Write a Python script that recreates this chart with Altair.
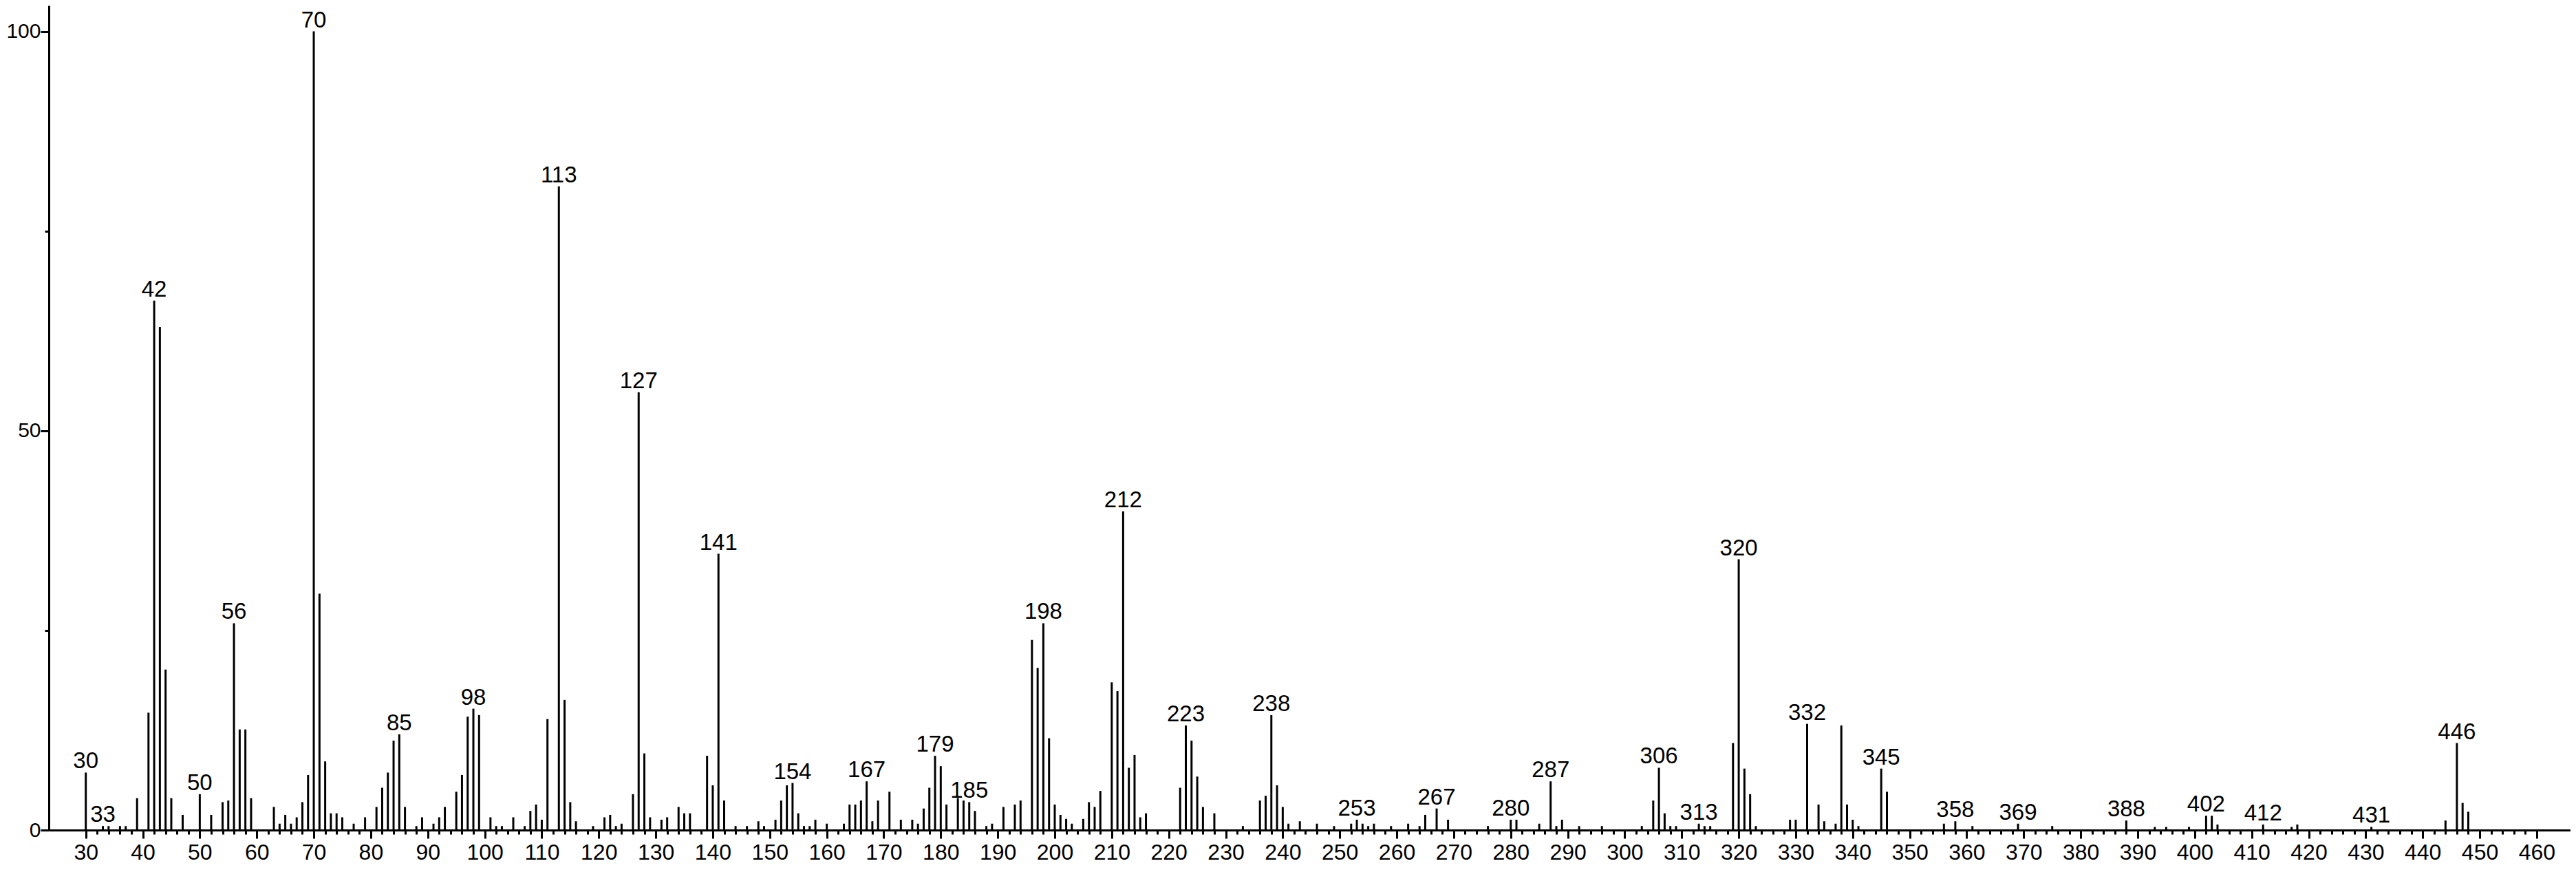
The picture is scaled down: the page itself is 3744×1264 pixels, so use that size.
import altair as alt
import pandas as pd

# m/z values of the peaks
mz = [30, 33, 34, 36, 37, 39, 41, 42, 43, 44, 45, 47, 50, 52, 54, 55, 56, 57, 58, 59,
      63, 64, 65, 66, 67, 68, 69, 70, 71, 72, 73, 74, 75, 77, 79, 81, 82, 83, 84, 85,
      86, 88, 89, 91, 92, 93, 95, 96, 97, 98, 99, 101, 102, 103, 105, 107, 108, 109, 110, 111,
      113, 114, 115, 116, 119, 121, 122, 123, 124, 126, 127, 128, 129, 131, 132, 134, 135, 136, 139, 140,
      141, 142, 144, 146, 148, 149, 151, 152, 153, 154, 155, 156, 157, 158, 160, 163, 164, 165, 166, 167,
      168, 169, 171, 173, 175, 176, 177, 178, 179, 180, 181, 183, 184, 185, 186, 188, 189, 191, 193, 194,
      196, 197, 198, 199, 200, 201, 202, 203, 205, 206, 207, 208, 210, 211, 212, 213, 214, 215, 216, 222,
      223, 224, 225, 226, 228, 233, 236, 237, 238, 239, 240, 241, 243, 246, 249, 252, 253, 254, 255, 256,
      259, 262, 264, 265, 267, 269, 276, 280, 281, 285, 287, 288, 289, 292, 296, 303, 305, 306, 307, 308,
      309, 313, 314, 315, 319, 320, 321, 322, 323, 329, 330, 332, 334, 335, 337, 338, 339, 340, 341, 345,
      346, 356, 358, 361, 369, 375, 388, 393, 395, 399, 402, 403, 404, 412, 417, 418, 431, 444, 446, 447,
      448]

# relative intensities (%)
intensity = [7.2, 0.5, 0.5, 0.5, 0.5, 4.0, 14.7, 66.3, 63.0, 20.1, 4.0, 1.9, 4.5, 1.9, 3.5, 3.7, 25.9, 12.6, 12.6, 4.0,
             2.9, 0.8, 1.9, 0.8, 1.6, 3.5, 6.9, 100.0, 29.6, 8.6, 2.1, 2.1, 1.6, 0.8, 1.6, 2.9, 5.3, 7.2, 11.2, 12.0,
             2.9, 0.5, 1.6, 0.8, 1.6, 2.9, 4.8, 6.9, 14.2, 15.2, 14.4, 1.6, 0.5, 0.5, 1.6, 0.5, 2.4, 3.2, 1.3, 13.9,
             80.6, 16.3, 3.5, 1.1, 0.5, 1.6, 1.9, 0.5, 0.8, 4.5, 54.8, 9.6, 1.6, 1.3, 1.6, 2.9, 2.1, 2.1, 9.3, 5.6,
             34.6, 3.7, 0.5, 0.5, 1.1, 0.5, 1.3, 3.7, 5.6, 5.9, 2.1, 0.5, 0.5, 1.3, 0.8, 0.8, 3.2, 3.2, 3.7, 6.1,
             1.1, 3.7, 4.8, 1.3, 1.3, 0.8, 2.7, 5.3, 9.3, 8.0, 3.2, 4.0, 3.7, 3.5, 2.4, 0.5, 0.8, 2.9, 3.2, 3.7,
             23.8, 20.3, 25.9, 11.5, 3.2, 1.9, 1.4, 0.8, 1.4, 3.5, 2.9, 4.9, 18.5, 17.4, 39.9, 7.8, 9.4, 1.6, 2.1, 5.3,
             13.1, 11.2, 6.7, 2.9, 2.1, 0.5, 3.7, 4.3, 14.4, 5.6, 2.9, 0.8, 1.1, 0.8, 0.5, 0.8, 1.3, 0.8, 0.5, 0.8,
             0.5, 0.8, 0.5, 1.9, 2.7, 1.3, 0.5, 1.3, 1.3, 0.8, 6.1, 0.5, 1.3, 0.5, 0.5, 0.5, 3.7, 7.8, 2.1, 0.5,
             0.5, 0.8, 0.5, 0.5, 10.9, 33.9, 7.7, 4.5, 0.5, 1.3, 1.3, 13.3, 3.2, 1.1, 0.8, 13.1, 3.2, 1.3, 0.5, 7.7,
             4.8, 0.8, 1.1, 0.5, 0.8, 0.5, 1.2, 0.4, 0.4, 0.4, 1.8, 1.8, 0.7, 0.7, 0.4, 0.7, 0.4, 1.2, 10.9, 3.4,
             2.3]

# peaks that carry an m/z label
labeled = [30, 33, 42, 50, 56, 70, 85, 98, 113, 127, 141, 154, 167, 179, 185, 198, 212, 223, 238,
           253, 267, 280, 287, 306, 313, 320, 332, 345, 358, 369, 388, 402, 412, 431, 446]

# axis tick values
x_major = list(range(30, 461, 10))
x_minor = [v for v in range(30, 461, 2) if v % 10 != 0]
y_major = [0, 50, 100]
y_minor = [25, 75]

df = pd.DataFrame({"mz": mz, "intensity": intensity})
df["label"] = [str(m) if m in labeled else "" for m in mz]

FONT = "Liberation Sans"

x_scale = alt.Scale(domain=[23.52, 465.93], nice=False, zero=False)
y_scale = alt.Scale(domain=[0, 103.24], nice=False, zero=True)

common = dict(tickWidth=3, tickColor="black", domainWidth=3, domainColor="black",
              grid=False, title=None)

x_axis_major = alt.Axis(
    values=x_major, orient="bottom", tickSize=12,
    labelFont=FONT, labelFontSize=32, labelColor="black",
    labelPadding=5, labelOverlap=False, labelFlush=False, labelBound=False,
    **common,
)
x_axis_minor = alt.Axis(values=x_minor, orient="bottom", tickSize=6, labels=False,
                        domain=False, **common)
y_axis_major = alt.Axis(
    values=y_major, orient="left", tickSize=12,
    labelFont=FONT, labelFontSize=30, labelColor="black",
    labelPadding=0, labelOverlap=False, labelFlush=False, labelBound=False,
    **common,
)
y_axis_minor = alt.Axis(values=y_minor, orient="left", tickSize=6, labels=False,
                        domain=False, **common)

base = alt.Chart(df)

bars = base.mark_rule(color="black", strokeWidth=3).encode(
    x=alt.X("mz:Q", scale=x_scale, axis=x_axis_major),
    y=alt.Y("intensity:Q", scale=y_scale, axis=y_axis_major),
    y2=alt.datum(0),
)

labels = base.transform_filter("datum.label != ''").mark_text(
    font=FONT, fontSize=33, color="black", align="center", baseline="alphabetic", dy=-6
).encode(
    x=alt.X("mz:Q", scale=x_scale, axis=x_axis_minor),
    y=alt.Y("intensity:Q", scale=y_scale, axis=y_axis_minor),
    text="label:N",
)

chart = alt.layer(bars, labels).resolve_axis(x="independent", y="independent").properties(
    width=3665,
    height=1198,
    autosize=alt.AutoSizeParams(type="none"),
    padding={"left": 63, "top": 0, "right": 0, "bottom": 50},
    background="white",
).configure_view(stroke=None)

chart.save("out.html", embed_options={"renderer": "svg", "actions": False})
